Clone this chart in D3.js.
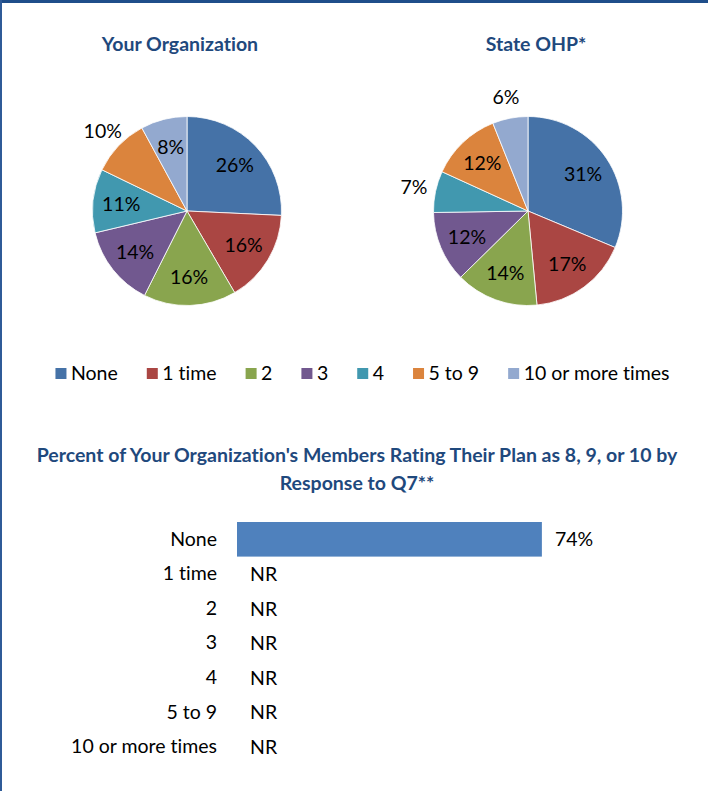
<!DOCTYPE html>
<html>
<head>
<meta charset="utf-8">
<script src="https://cdn.jsdelivr.net/npm/d3@7"></script>
<style>
  html, body { margin: 0; padding: 0; background: #fff; }
  svg { display: block; }
  text { font-family: Lato, "Open Sans", sans-serif; font-variant-ligatures: none; font-feature-settings: "liga" 0, "clig" 0; }
</style>
</head>
<body>
<svg id="chart" width="708" height="791"></svg>
<script>
// ---- data ----
const categories = ["None", "1 time", "2", "3", "4", "5 to 9", "10 or more times"];
const orgValues = [26, 16, 16, 14, 11, 10, 8];
const stateValues = [31, 17, 14, 12, 7, 12, 6];
const orgLabelOutside = [false, false, false, false, false, true, false];
const stateLabelOutside = [false, false, false, false, true, false, true];
const pieTitles = ["Your Organization", "State OHP*"];
const barTitleLines = ["Percent of Your Organization's Members Rating Their Plan as 8, 9, or 10 by", "Response to Q7**"];
const barValues = [74, null, null, null, null, null, null];
const missingLabel = "NR";

// ---- style ----
const colors = ["#4572A7", "#AA4643", "#89A54E", "#71588F", "#4198AF", "#DB843D", "#93A9CF"];
const titleColor = "#1F497D";
const barColor = "#4F81BD";
const labelSize = 19.5;
const pieLabelSize = 19.5;
const titleSize = 19.5;

const svg = d3.select("#chart");
svg.append("rect").attr("width", 708).attr("height", 791).attr("fill", "#fff");
svg.append("rect").attr("x", 0).attr("y", 0).attr("width", 708).attr("height", 3).attr("fill", "#1F4E8A");
svg.append("rect").attr("x", 0).attr("y", 0).attr("width", 2).attr("height", 791).attr("fill", "#2F5B98");

const color = d3.scaleOrdinal().domain(categories).range(colors);

function drawPie(values, outside, cx, cy, r, title, titleX) {
  const g = svg.append("g").attr("transform", `translate(${cx},${cy})`);
  const data = values.map((v, i) => ({ cat: categories[i], value: v, outside: outside[i] }));
  const pie = d3.pie().value(d => d.value).sort(null);
  const arcs = pie(data);
  const arc = d3.arc().innerRadius(0).outerRadius(r);
  const inArc = d3.arc().innerRadius(r * 0.7).outerRadius(r * 0.7);
  const outArc = d3.arc().innerRadius(r + 22).outerRadius(r + 22);
  g.selectAll("path").data(arcs).join("path")
    .attr("d", arc)
    .attr("fill", d => color(d.data.cat))
    .attr("stroke", "#fff")
    .attr("stroke-width", 0.8);
  g.selectAll("text.lbl").data(arcs).join("text")
    .attr("class", "lbl")
    .attr("transform", d => `translate(${(d.data.outside ? outArc : inArc).centroid(d)})`)
    .attr("text-anchor", "middle")
    .attr("dy", "0.36em")
    .attr("font-size", pieLabelSize)
    .attr("fill", "#000")
    .text(d => d.data.value + "%");
  svg.append("text")
    .attr("x", titleX).attr("y", 51)
    .attr("text-anchor", "middle")
    .attr("font-size", titleSize).attr("font-weight", "bold")
    .attr("fill", titleColor)
    .text(title);
}

drawPie(orgValues, orgLabelOutside, 187, 211, 94.5, pieTitles[0], 180);
drawPie(stateValues, stateLabelOutside, 528, 211, 94.5, pieTitles[1], 536);

// ---- legend ----
const legend = svg.append("g");
const items = legend.selectAll("g").data(categories).join("g");
items.append("rect").attr("width", 11).attr("height", 11).attr("y", -12).attr("fill", d => color(d));
items.append("text").attr("x", 15.5).attr("y", 0).attr("font-size", labelSize).attr("fill", "#000").text(d => d);
const gapBetween = 29;
let lx = 0;
items.each(function () {
  const w = d3.select(this).select("text").node().getComputedTextLength();
  d3.select(this).attr("transform", `translate(${lx},0)`);
  lx += 15.5 + w + gapBetween;
});
const legendWidth = lx - gapBetween;
legend.attr("transform", `translate(${362.5 - legendWidth / 2},380)`);

// ---- bar chart ----
svg.selectAll("text.btitle").data(barTitleLines).join("text")
  .attr("class", "btitle")
  .attr("x", 357).attr("y", (d, i) => 462 + i * 28)
  .attr("text-anchor", "middle")
  .attr("font-size", titleSize).attr("font-weight", "bold")
  .attr("fill", titleColor)
  .text(d => d);

const y = d3.scaleBand().domain(categories).range([522, 522 + 34.6 * categories.length]).padding(0);
const x = d3.scaleLinear().domain([0, 100]).range([237, 649]);

svg.append("g").selectAll("rect").data(categories.map((c, i) => ({ cat: c, v: barValues[i] })).filter(d => d.v != null))
  .join("rect")
  .attr("x", x(0)).attr("y", d => y(d.cat))
  .attr("width", d => x(d.v) - x(0)).attr("height", y.bandwidth())
  .attr("fill", barColor);

const yAxis = d3.axisLeft(y).tickSize(0).tickPadding(0);
const ax = svg.append("g").attr("transform", "translate(217,0)").call(yAxis);
ax.select(".domain").remove();
ax.selectAll("text").attr("font-size", labelSize).attr("fill", "#000").attr("font-family", "Lato, sans-serif");

svg.append("g").selectAll("text").data(categories.map((c, i) => ({ cat: c, v: barValues[i] })))
  .join("text")
  .attr("x", d => x(d.v == null ? 0 : d.v) + 13)
  .attr("y", d => y(d.cat) + y.bandwidth() / 2)
  .attr("dy", "0.36em")
  .attr("font-size", labelSize)
  .attr("fill", "#000")
  .text(d => d.v == null ? missingLabel : d.v + "%");
</script>
</body>
</html>
